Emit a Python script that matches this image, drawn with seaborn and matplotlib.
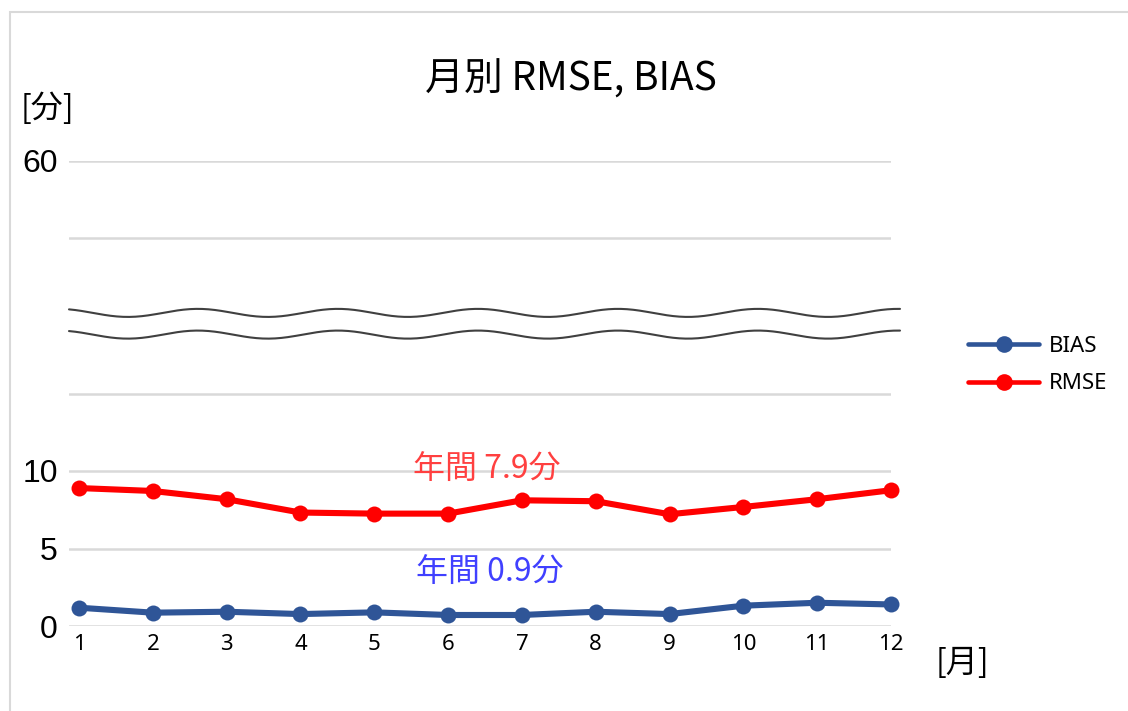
import numpy as np
import pandas as pd
import matplotlib
matplotlib.use("Agg")
import matplotlib.pyplot as plt
import seaborn as sns
from matplotlib.lines import Line2D
from matplotlib.patches import Rectangle

# ---- data ----
months = list(range(1, 13))
month_labels = [str(m) for m in months]
bias = [1.18, 0.86, 0.92, 0.77, 0.88, 0.71, 0.71, 0.92, 0.77, 1.31, 1.50, 1.39]
rmse = [8.90, 8.71, 8.18, 7.32, 7.25, 7.25, 8.11, 8.05, 7.21, 7.68, 8.18, 8.76]
ytick_pos = [0, 5, 10, 15, 20, 25, 30]
ytick_labels = ["0", "5", "10", "", "", "", "60"]
grid_pos = [0, 5, 10, 15, 25, 30]
title = "月別 RMSE, BIAS"
ann_rmse = "年間 7.9分"
ann_bias = "年間 0.9分"

sns.set_theme(style="white")
plt.rcParams['font.family'] = ['Noto Sans CJK JP', 'DejaVu Sans']
plt.rcParams['text.color'] = 'black'

fig = plt.figure(figsize=(11.28, 7.11), dpi=100)
ax = fig.add_axes([69/1128, 1-626/711, (891-69)/1128, (626-161)/711])

c_bias = "#2F5597"
c_rmse = "#FF0000"

df = pd.DataFrame({"month": months, "BIAS": bias, "RMSE": rmse})
for col, colr in [("BIAS", c_bias), ("RMSE", c_rmse)]:
    sns.lineplot(data=df, x="month", y=col, ax=ax, color=colr, marker="o",
                 markersize=11.5, markeredgewidth=0, linewidth=4.4, clip_on=False,
                 zorder=5, legend=False)

ax.set_xlim(1 - 10/73.8, 12)
ax.set_ylim(0, 30)
for g in grid_pos:
    ax.axhline(g, color="#d9d9d9", lw=1.8, zorder=1)
for s in ax.spines.values():
    s.set_visible(False)

ax.set_xticks(months)
ax.set_xticklabels(month_labels, fontsize=16, family=['Noto Sans', 'DejaVu Sans'], color='black')
ax.set_yticks(ytick_pos)
ax.set_yticklabels(ytick_labels, fontsize=23, family=['Liberation Sans', 'DejaVu Sans'], color='black')
ax.tick_params(axis="x", length=0, pad=6)
ax.tick_params(axis="y", length=0, pad=8)
ax.set_xlabel("")
ax.set_ylabel("")

# break (wavy) lines
per = 140/73.8
xs = np.linspace(1 - 10/73.8, 12 + 9/73.8, 400)
for yc in [20.2, 18.8]:
    ys = yc + 0.26*np.sin(2*np.pi*(xs - 2.61)/per + np.pi/2)
    ax.plot(xs, ys, color="#404040", lw=1.5, clip_on=False, zorder=3)

# annotations
ax.text(6.53, 10.05, ann_rmse, color="#FF4040", fontsize=23, ha="center", va="center")
ax.text(6.57, 3.4, ann_bias, color="#4040FF", fontsize=23, ha="center", va="center")

# texts
fig.text(571/1128, 1-80/711, title, fontsize=28, ha="center", va="center", color='black')
fig.text(47/1128, 1-109/711, "[分]", fontsize=23, ha="center", va="center", color='black')
fig.text(962/1128, 1-663/711, "[月]", fontsize=23, ha="center", va="center", color='black')

# legend
handles = [Line2D([0], [0], color=c_bias, lw=3.3, marker="o", markersize=12, markeredgewidth=0),
           Line2D([0], [0], color=c_rmse, lw=3.3, marker="o", markersize=12, markeredgewidth=0)]
fig.legend(handles, ["BIAS", "RMSE"], loc="center left",
           bbox_to_anchor=(948/1128, 1-365/711), frameon=False,
           handlelength=3.2, labelspacing=0.75, handletextpad=0.45,
           prop={'family': ['Noto Sans', 'DejaVu Sans'], 'size': 16})

# outer frame
top = 1 - 12/711
fig.patches.append(Rectangle((10/1128, -0.1), 1.2, top + 0.1,
                             transform=fig.transFigure, fill=False,
                             edgecolor="#d9d9d9", lw=1.5))

fig.savefig("out.png", dpi=100)
